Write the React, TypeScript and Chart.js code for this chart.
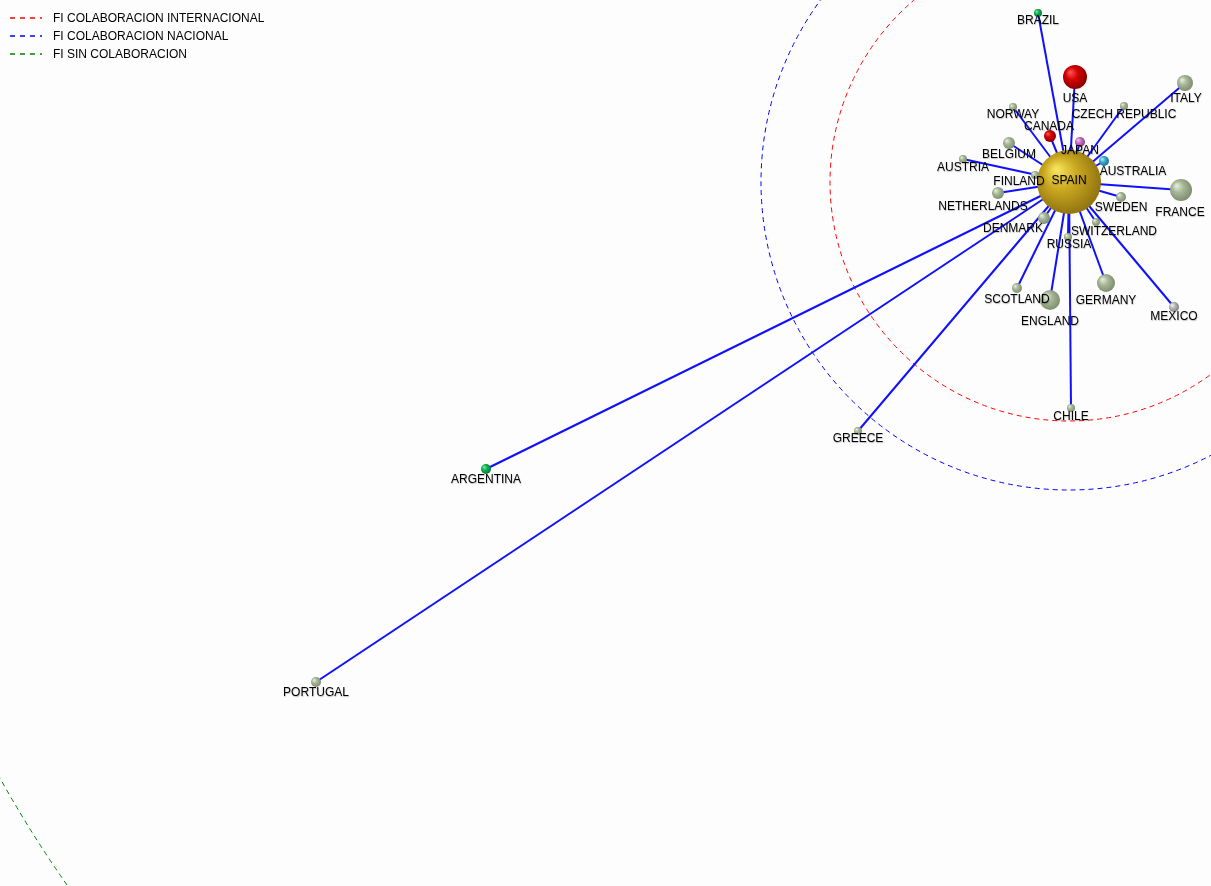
import React, { useEffect, useRef } from "react";
import { Chart, registerables } from "chart.js";
Chart.register(...registerables);

const W = 1211;
const H = 886;

// node data
const countries = ["SPAIN","USA","BRAZIL","ITALY","CZECH REPUBLIC","NORWAY","CANADA","JAPAN","AUSTRALIA","BELGIUM","AUSTRIA","FINLAND","NETHERLANDS","FRANCE","SWEDEN","DENMARK","SWITZERLAND","RUSSIA","SCOTLAND","ENGLAND","GERMANY","MEXICO","CHILE","GREECE","ARGENTINA","PORTUGAL"];
const nodeX = [1069,1075,1038,1185,1124,1013,1050,1080,1104,1009,963,1035,998,1181,1121,1044,1096,1068,1017,1050,1106,1174,1071,858,486,316];
const nodeY = [182,77,13,83,106,107,136,142,161,143,159,175,193,190,197,218,222,237,288,300,283,307,408,431,469,682];
const nodeSize = [32,12,4,8,4,4,6,5,5,6,4,4,6,11,5,6,4,4,5,10,9,5,4,4,5,5];
const nodeGroup = ["gold","red","green","sage","sage","sage","red","violet","cyan","sage","sage","sage","sage","sage","sage","sage","sage","sage","sage","sage","sage","grey","sage","sage","green","sage"];
const labelDX = [0,0,0,1,0,0,-1,0,29,0,0,-16,-15,-1,0,-31,18,1,0,0,0,0,0,0,0,0];
const labelDY = [-1,22,8,16,9,8,-9,9,11,12,9,7,14,23,11,11,10,8,12,22,18,10,9,8,11,11];

// concentric reference circles centred on SPAIN
const ringNames = ["FI COLABORACION INTERNACIONAL","FI COLABORACION NACIONAL","FI SIN COLABORACION"];
const ringRadius = [239, 308, 1224];
const ringColors = ["#ff0000","#0000ff","#008000"];

const palette: Record<string, [string, string, string]> = {
  gold: ["#f6e25a", "#caa821", "#927510"],
  red: ["#ff5050", "#d40000", "#8a0000"],
  green: ["#70f0a0", "#12b052", "#0a7a38"],
  sage: ["#e4ecda", "#a6b696", "#7e8e6e"],
  violet: ["#f4c4f0", "#c870c4", "#8a4086"],
  cyan: ["#b0eef8", "#3aaed0", "#1c7090"],
  grey: ["#f2f2f2", "#b8b8b8", "#808080"],
};

const ringPlugin = {
  id: "rings",
  beforeDatasetsDraw(chart: any) {
    const { ctx, scales } = chart;
    const cx = scales.x.getPixelForValue(nodeX[0]);
    const cy = scales.y.getPixelForValue(nodeY[0]);
    ctx.save();
    ringRadius.forEach((r, i) => {
      const rp = Math.abs(scales.x.getPixelForValue(nodeX[0] + r) - cx);
      ctx.beginPath();
      ctx.setLineDash([5, 4]);
      ctx.lineWidth = 1;
      ctx.strokeStyle = ringColors[i];
      ctx.arc(cx, cy, rp, 0, Math.PI * 2);
      ctx.stroke();
    });
    ctx.restore();
  },
  afterDatasetsDraw(chart: any) {
    const { ctx, scales } = chart;
    ctx.save();
    ctx.font = "12px 'Liberation Sans', Arial, sans-serif";
    ctx.textAlign = "center";
    ctx.textBaseline = "middle";
    ctx.shadowColor = "rgba(0,0,0,0.25)";
    ctx.shadowBlur = 1;
    ctx.shadowOffsetX = 0.5;
    ctx.shadowOffsetY = 0.5;
    countries.forEach((name, i) => {
      const x = scales.x.getPixelForValue(nodeX[i]) + labelDX[i];
      const y = scales.y.getPixelForValue(nodeY[i]) + labelDY[i];
      ctx.fillStyle = "#000";
      ctx.fillText(name, x, y);
    });
    ctx.shadowColor = "rgba(0,0,0,0)";
    // legend
    ctx.textAlign = "left";
    ringNames.forEach((name, i) => {
      const y = 18 + i * 18;
      ctx.beginPath();
      ctx.setLineDash([5, 5]);
      ctx.lineWidth = 1.5;
      ctx.strokeStyle = ringColors[i];
      ctx.moveTo(10, y);
      ctx.lineTo(42, y);
      ctx.stroke();
      ctx.setLineDash([]);
      ctx.fillStyle = "#000";
      ctx.fillText(name, 53, y + 1);
    });
    ctx.restore();
  },
};

function sphereFill(context: any) {
  const i = context.dataIndex;
  const chart = context.chart;
  const group = i === undefined ? "sage" : nodeGroup[i];
  const [hi, mid, dark] = palette[group] || palette.sage;
  const sx = chart.scales && chart.scales.x;
  const sy = chart.scales && chart.scales.y;
  if (i === undefined || !sx || !sy) return mid;
  const x = sx.getPixelForValue(nodeX[i]);
  const y = sy.getPixelForValue(nodeY[i]);
  const r = nodeSize[i];
  if (!isFinite(x) || !isFinite(y) || !isFinite(r)) return mid;
  const g = chart.ctx.createRadialGradient(x - r * 0.4, y - r * 0.4, r * 0.05, x - r * 0.1, y - r * 0.1, r * 1.1);
  g.addColorStop(0, hi);
  g.addColorStop(0.45, mid);
  g.addColorStop(1, dark);
  return g;
}

export default function App() {
  const ref = useRef<HTMLCanvasElement>(null);
  useEffect(() => {
    document.body.style.margin = "0";
    const nodes = countries.map((_, i) => ({ x: nodeX[i], y: nodeY[i] }));
    const edges = countries.slice(1).map((_, k) => ({
      type: "line" as const,
      data: [nodes[0], nodes[k + 1]],
      borderColor: "#1010ff",
      borderWidth: 2,
      pointRadius: 0,
      showLine: true,
      order: 2,
    }));
    const chart = new Chart(ref.current!, {
      type: "scatter",
      data: {
        datasets: [
          {
            data: nodes,
            pointRadius: nodeSize,
            pointHoverRadius: nodeSize,
            backgroundColor: sphereFill,
            borderWidth: 0,
            order: 0,
            clip: false,
          } as any,
          ...edges,
        ],
      },
      options: {
        animation: false,
        responsive: false,
        events: [],
        layout: { padding: 0, autoPadding: false },
        plugins: { legend: { display: false }, tooltip: { enabled: false } },
        scales: {
          x: { type: "linear", min: 0, max: W, display: false },
          y: { type: "linear", min: 0, max: H, reverse: true, display: false },
        },
      },
      plugins: [ringPlugin],
    });
    return () => chart.destroy();
  }, []);
  return (
    <div style={{ width: W, height: H, background: "#fdfdfd" }}>
      <canvas ref={ref} width={W} height={H} style={{ display: "block" }} />
    </div>
  );
}
